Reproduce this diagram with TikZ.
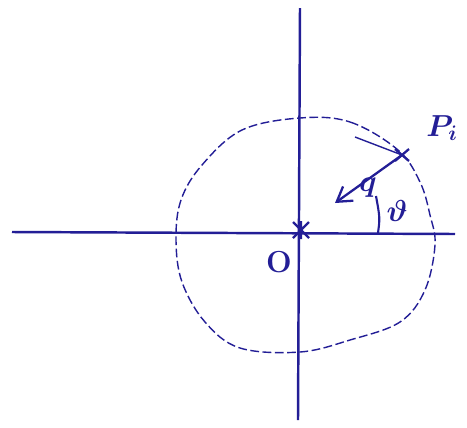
\documentclass[tikz,border=0pt]{standalone}
\usepackage{amsmath,bm}
\usetikzlibrary{arrows.meta,calc}
\definecolor{ink}{RGB}{35,30,150}
\begin{document}
\begin{tikzpicture}[x=0.02cm,y=-0.02cm,
  axis/.style={ink,line width=1.4pt},
  sketch/.style={ink,line width=0.8pt,dash pattern=on 5pt off 2pt},
  lbl/.style={ink,font=\LARGE\bfseries},
  starmark/.style={ink,line width=1.3pt}]
\useasboundingbox (0,0) rectangle (467,427);
% axes
\coordinate (yt) at (300,8);
\coordinate (yb) at (298,420);
\coordinate (xl) at (12,232);
\coordinate (xr) at (455,234);
\draw[axis] (yt) -- (yb);
\draw[axis] (xl) -- (xr);
% dashed circle
\draw[sketch] plot[smooth cycle,tension=0.6] coordinates{(300,118) (350,122) (398,150) (420,182) (430,215) (435,245) (425,290) (400,322) (350,340) (300,352) (240,348) (205,322) (182,282) (176,240) (181,200) (202,165) (242,130)};
% origin star
\coordinate (O) at (301,230);
\draw[starmark] ($(O)+(-8,-8)$) -- ($(O)+(8,8)$) ($(O)+(8,-8)$) -- ($(O)+(-8,8)$) ($(O)+(0,-9)$) -- ($(O)+(0,9)$);
\node[lbl] (Olbl) at (279,262) {O};
% point Pi
\coordinate (P) at (402,155);
\draw[starmark] ($(P)+(-7,-6)$) -- ($(P)+(7,6)$) ($(P)+(7,-6)$) -- ($(P)+(-7,6)$);
\draw[ink,line width=0.8pt] (355,137) -- (P);
\node[lbl] (Plbl) at (442,128) {$\bm{P_{i}}$};
% arrow
\coordinate (A) at (335,203);
\draw[ink,line width=1.3pt,-{Straight Barb[length=8pt,width=10pt]}] (P) -- (A);
\node[lbl] (q) at (368,188) {$\bm{q}$};
% angle
\draw[ink,line width=1.2pt] (378,233) .. controls (380,218) .. (376,196);
\node[lbl] (th) at (397,211) {$\bm{\vartheta}$};
\end{tikzpicture}
\end{document}
